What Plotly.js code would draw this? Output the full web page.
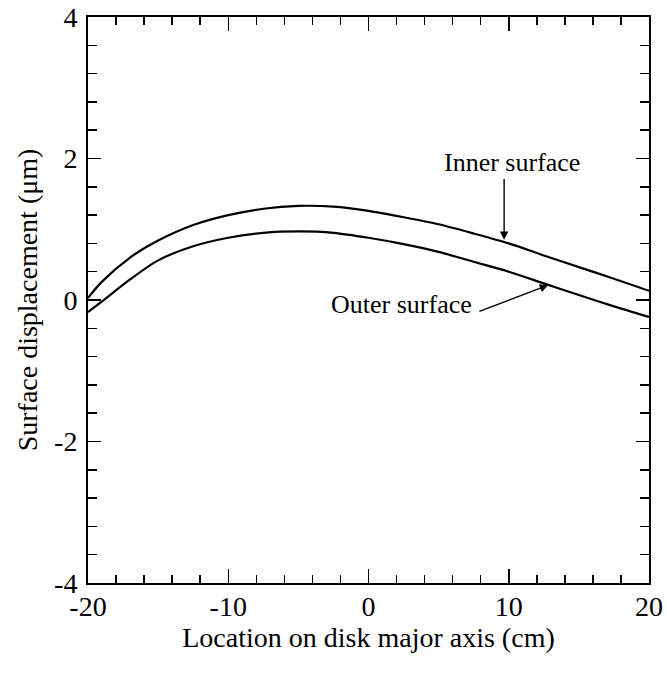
<!DOCTYPE html>
<html><head><meta charset="utf-8">
<script src="https://cdn.plot.ly/plotly-3.0.1.min.js"></script>
<style>body{margin:0;background:#fff}#plot{width:667px;height:673px}</style>
</head><body><div id="plot"></div>
<script>
const xs = [-20,-19,-17,-15,-12.5,-10,-7.5,-5,-2.5,0,2.5,5,7.5,10,12.5,15,17.5,20];
const innerY = [0.03,0.26,0.60,0.84,1.06,1.20,1.29,1.33,1.32,1.26,1.17,1.07,0.94,0.80,0.63,0.465,0.30,0.13];
const outerY = [-0.17,-0.02,0.29,0.56,0.76,0.88,0.95,0.97,0.95,0.88,0.79,0.68,0.54,0.40,0.235,0.07,-0.09,-0.24];
const xTickVals = [-20,-10,0,10,20];
const yTickVals = [-4,-2,0,2,4];

const fam = '"Liberation Serif", "DejaVu Serif", serif';
const tickFont = {family:fam, color:'#000', size:28};
const annFont = {family:fam, color:'#000', size:26};
const titleFont = {family:fam, color:'#000', size:28};
const lineStyle = {color:'#000', width:2.2, shape:'spline', smoothing:0.8};

const data = [
  {x: xs, y: innerY, mode:'lines', line: lineStyle, name:'Inner surface', showlegend:false},
  {x: xs, y: outerY, mode:'lines', line: lineStyle, name:'Outer surface', showlegend:false}
];

const layout = {
  width:667, height:673,
  margin:{l:88, r:18, t:17, b:90},
  paper_bgcolor:'#fff', plot_bgcolor:'#fff',
  font: tickFont,
  showlegend:false,
  xaxis:{range:[-20,20], tickvals:xTickVals, ticktext:xTickVals.map(String),
    ticks:'inside', ticklen:14, tickwidth:1.5, tickcolor:'#000',
    minor:{dtick:2, tick0:0, ticks:'inside', ticklen:8, tickwidth:1.5, tickcolor:'#000'},
    showline:true, linecolor:'#000', linewidth:2, mirror:'allticks', showgrid:false, zeroline:false,
    tickfont:tickFont, ticklabelstandoff:-3,
    title:{text:'Location on disk major axis (cm)', font:titleFont, standoff:4}},
  yaxis:{range:[-4,4], tickvals:yTickVals, ticktext:yTickVals.map(String),
    ticks:'inside', ticklen:13, tickwidth:1.5, tickcolor:'#000',
    minor:{dtick:0.4, tick0:0, ticks:'inside', ticklen:9, tickwidth:1.5, tickcolor:'#000'},
    showline:true, linecolor:'#000', linewidth:2, mirror:'allticks', showgrid:false, zeroline:false,
    tickfont:tickFont, ticklabelstandoff:3,
    title:{text:'Surface displacement (\u03bcm)', font:titleFont, standoff:8}},
  annotations:[
    {x:9.67, y:0.85, ax:9.67, ay:1.73, axref:'x', ayref:'y', showarrow:true, arrowhead:2, arrowsize:1.2, arrowwidth:1.4, arrowcolor:'#000', text:''},
    {x:10.2, y:1.94, text:'Inner surface', showarrow:false, font:annFont},
    {x:12.81, y:0.21, ax:7.8, ay:-0.17, axref:'x', ayref:'y', showarrow:true, arrowhead:2, arrowsize:1.2, arrowwidth:1.4, arrowcolor:'#000', text:''},
    {x:2.38, y:-0.07, text:'Outer surface', showarrow:false, font:annFont}
  ]
};
Plotly.newPlot('plot', data, layout, {staticPlot:true});
</script></body></html>
